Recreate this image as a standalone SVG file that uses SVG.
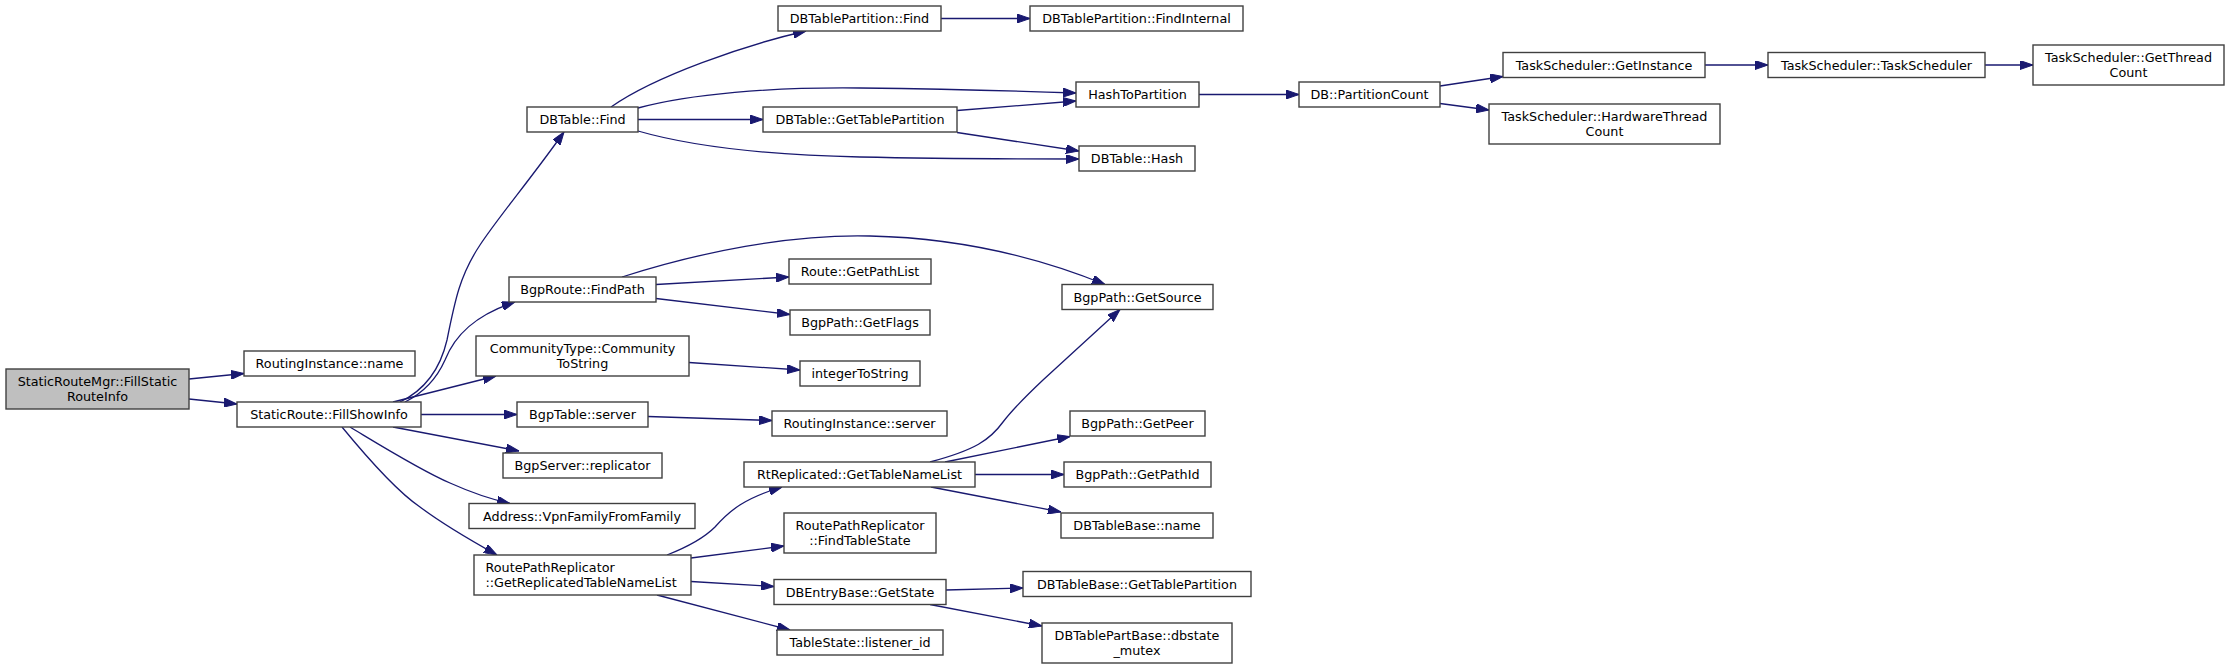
<svg xmlns="http://www.w3.org/2000/svg" width="2229" height="668" viewBox="0 0 2229 668">
<style>
.node rect{fill:#ffffff;stroke:#404040;stroke-width:1.4}
.node.root rect{fill:#bfbfbf}
.node text{font-family:"DejaVu Sans","Liberation Sans",sans-serif;font-size:12.75px;fill:#000000;text-anchor:middle}
.node text.l{text-anchor:start}
.edges path{fill:none;stroke:#191970;stroke-width:1.3;marker-end:url(#arr)}
</style>
<defs>
<marker id="arr" viewBox="0 0 13 9" refX="13" refY="4.5" markerWidth="13" markerHeight="9" markerUnits="userSpaceOnUse" orient="auto">
<path d="M0,0 L13,4.5 L0,9 z" fill="#191970" stroke="#191970" stroke-width="1"/>
</marker>
</defs>
<rect width="2229" height="668" fill="#ffffff"/>
<g class="edges">
<path d="M189,379 L244,373.5"/>
<path d="M189,399 L237,404"/>
<path d="M400,402 C425,390 440,370 447,340 C455,300 460,275 480,245 C500,215 530,180 564,132"/>
<path d="M405,402 C425,392 437,378 445,360 C455,335 475,315 515,302"/>
<path d="M393,402 L496,376"/>
<path d="M421,414.5 L517,414.5"/>
<path d="M393,427 L519,451"/>
<path d="M350,427 C380,445 420,470 450,483 C470,492 490,499 510,503.5"/>
<path d="M342,427 C365,455 395,490 420,507 C440,522 470,540 497,555"/>
<path d="M611,107 C655,76 745,45 806,31"/>
<path d="M638,108 C690,94 770,87 860,88 C940,89 1020,91 1076,93"/>
<path d="M638,119.5 L763,119.5"/>
<path d="M638,131 C690,146 770,155 860,157 C950,159 1030,159 1079,159"/>
<path d="M957,110.5 L1076,101"/>
<path d="M957,132.5 L1079,151"/>
<path d="M941,18.5 L1030,18.5"/>
<path d="M1199,94.5 L1299,94.5"/>
<path d="M1440,86 L1503,76.5"/>
<path d="M1440,103.5 L1489,110"/>
<path d="M1705,65 L1768,65"/>
<path d="M1985,65 L2033,65"/>
<path d="M656,284.5 L789,277"/>
<path d="M656,298.5 L790,314.5"/>
<path d="M622,277 C700,252 790,234 870,236 C960,238 1040,258 1105,284.5"/>
<path d="M689,362.5 L800,370"/>
<path d="M648,416.5 L772,420.5"/>
<path d="M667,555 C690,546 705,537 715,527 C730,510 745,498 782,487"/>
<path d="M691,558 L784,546"/>
<path d="M691,581.5 L774,586.5"/>
<path d="M657,595 L790,630"/>
<path d="M930,462 C975,450 990,440 1003,422 C1012,410 1025,397 1043,380 L1120,309.5"/>
<path d="M945,462 L1070,436.5"/>
<path d="M975,474.5 L1064,474.5"/>
<path d="M931,487 L1061,512"/>
<path d="M946,590 L1023,588"/>
<path d="M930,604.5 L1042,626"/>
</g>
<g id="n0" class="node root"><rect x="6" y="369" width="183" height="40"/><text x="97.5" y="385.5">StaticRouteMgr::FillStatic</text><text x="97.5" y="400.5">RouteInfo</text></g>
<g id="n1" class="node"><rect x="244" y="351" width="171" height="25"/><text x="329.5" y="368">RoutingInstance::name</text></g>
<g id="n2" class="node"><rect x="237" y="402" width="184" height="25"/><text x="329" y="419">StaticRoute::FillShowInfo</text></g>
<g id="n3" class="node"><rect x="527" y="107" width="111" height="25"/><text x="582.5" y="124">DBTable::Find</text></g>
<g id="n4" class="node"><rect x="509" y="277" width="147" height="25"/><text x="582.5" y="294">BgpRoute::FindPath</text></g>
<g id="n5" class="node"><rect x="476" y="336" width="213" height="40"/><text x="582.5" y="352.5">CommunityType::Community</text><text x="582.5" y="367.5">ToString</text></g>
<g id="n6" class="node"><rect x="517" y="402" width="131" height="25"/><text x="582.5" y="419">BgpTable::server</text></g>
<g id="n7" class="node"><rect x="503" y="453" width="159" height="25"/><text x="582.5" y="470">BgpServer::replicator</text></g>
<g id="n8" class="node"><rect x="469" y="503.5" width="226" height="25"/><text x="582" y="520.5">Address::VpnFamilyFromFamily</text></g>
<g id="n9" class="node"><rect x="474" y="555" width="217" height="40"/><text class="l" x="485.5" y="571.5">RoutePathReplicator</text><text class="l" x="485.5" y="586.5">::GetReplicatedTableNameList</text></g>
<g id="n10" class="node"><rect x="778" y="6" width="163" height="25"/><text x="859.5" y="23">DBTablePartition::Find</text></g>
<g id="n11" class="node"><rect x="763" y="107" width="194" height="25"/><text x="860" y="124">DBTable::GetTablePartition</text></g>
<g id="n12" class="node"><rect x="789" y="259" width="142" height="25"/><text x="860" y="276">Route::GetPathList</text></g>
<g id="n13" class="node"><rect x="790" y="310" width="140" height="25"/><text x="860" y="327">BgpPath::GetFlags</text></g>
<g id="n14" class="node"><rect x="800" y="361" width="120" height="25"/><text x="860" y="378">integerToString</text></g>
<g id="n15" class="node"><rect x="772" y="411" width="175" height="25"/><text x="859.5" y="428">RoutingInstance::server</text></g>
<g id="n16" class="node"><rect x="744" y="462" width="231" height="25"/><text x="859.5" y="479">RtReplicated::GetTableNameList</text></g>
<g id="n17" class="node"><rect x="784" y="513" width="152" height="40"/><text x="860" y="529.5">RoutePathReplicator</text><text x="860" y="544.5">::FindTableState</text></g>
<g id="n18" class="node"><rect x="774" y="579.5" width="172" height="25"/><text x="860" y="596.5">DBEntryBase::GetState</text></g>
<g id="n19" class="node"><rect x="777" y="630" width="166" height="25"/><text x="860" y="647">TableState::listener_id</text></g>
<g id="n20" class="node"><rect x="1030" y="6" width="213" height="25"/><text x="1136.5" y="23">DBTablePartition::FindInternal</text></g>
<g id="n21" class="node"><rect x="1076" y="82" width="123" height="25"/><text x="1137.5" y="99">HashToPartition</text></g>
<g id="n22" class="node"><rect x="1079" y="146" width="116" height="25"/><text x="1137" y="163">DBTable::Hash</text></g>
<g id="n23" class="node"><rect x="1062" y="284.5" width="151" height="25"/><text x="1137.5" y="301.5">BgpPath::GetSource</text></g>
<g id="n24" class="node"><rect x="1070" y="411" width="135" height="25"/><text x="1137.5" y="428">BgpPath::GetPeer</text></g>
<g id="n25" class="node"><rect x="1064" y="462" width="147" height="25"/><text x="1137.5" y="479">BgpPath::GetPathId</text></g>
<g id="n26" class="node"><rect x="1061" y="513" width="152" height="25"/><text x="1137" y="530">DBTableBase::name</text></g>
<g id="n27" class="node"><rect x="1023" y="571.5" width="228" height="25"/><text x="1137" y="588.5">DBTableBase::GetTablePartition</text></g>
<g id="n28" class="node"><rect x="1042" y="623" width="190" height="40"/><text x="1137" y="639.5">DBTablePartBase::dbstate</text><text x="1137" y="654.5">_mutex</text></g>
<g id="n29" class="node"><rect x="1299" y="82" width="141" height="25"/><text x="1369.5" y="99">DB::PartitionCount</text></g>
<g id="n30" class="node"><rect x="1503" y="52.5" width="202" height="25"/><text x="1604" y="69.5">TaskScheduler::GetInstance</text></g>
<g id="n31" class="node"><rect x="1489" y="104" width="231" height="40"/><text x="1604.5" y="120.5">TaskScheduler::HardwareThread</text><text x="1604.5" y="135.5">Count</text></g>
<g id="n32" class="node"><rect x="1768" y="52.5" width="217" height="25"/><text x="1876.5" y="69.5">TaskScheduler::TaskScheduler</text></g>
<g id="n33" class="node"><rect x="2033" y="45" width="191" height="40"/><text x="2128.5" y="61.5">TaskScheduler::GetThread</text><text x="2128.5" y="76.5">Count</text></g>
</svg>
